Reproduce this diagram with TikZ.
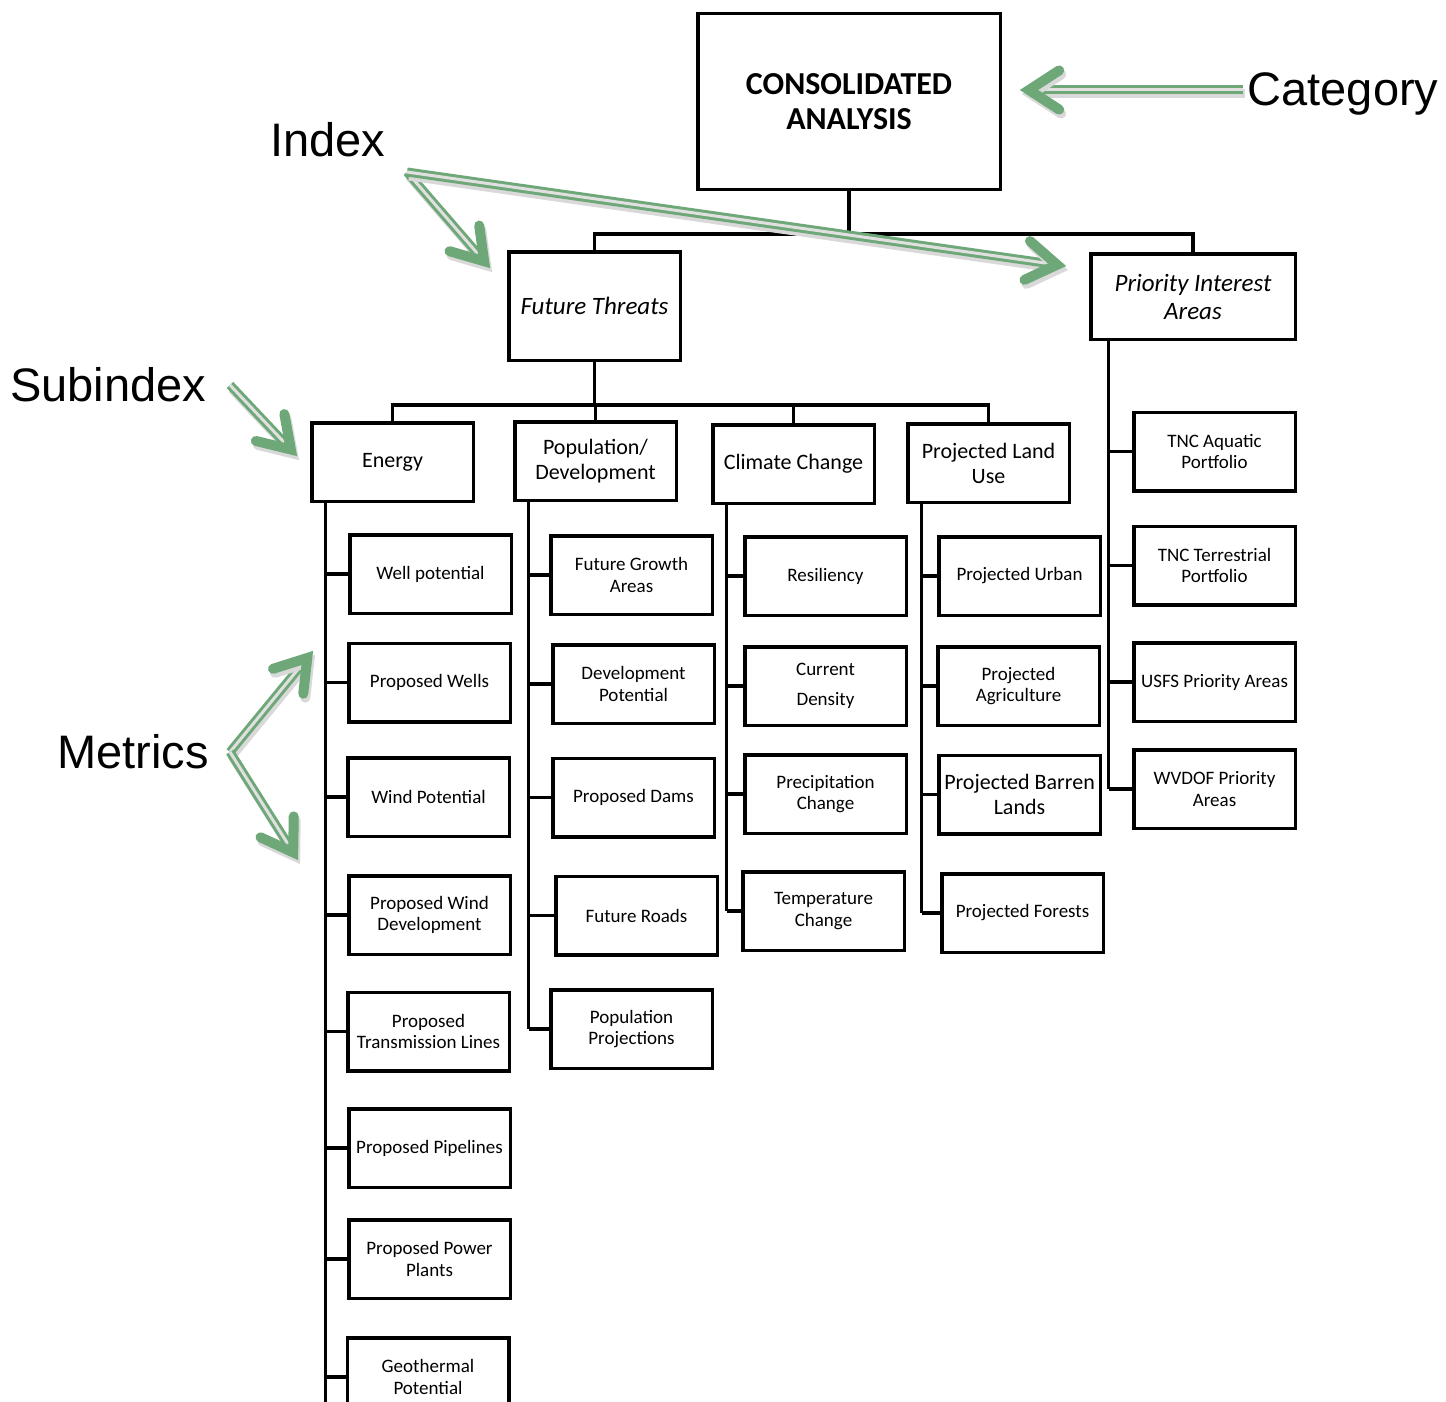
\documentclass[tikz,border=0pt]{standalone}
\usepackage{fontspec}
\setmainfont{Carlito}
\newfontfamily\labfont{Liberation Sans}
\usetikzlibrary{calc}
\definecolor{arrowgreen}{RGB}{111,168,120}
\tikzset{
  box/.style={draw, line width=3.5pt, align=center, inner sep=2pt,
              minimum width=161.5pt, minimum height=78.5pt,
              font=\fontsize{19}{21.5}\selectfont},
  subbox/.style={box, font=\fontsize{22}{25}\selectfont},
  indexbox/.style={box, font=\itshape\fontsize{25}{28}\selectfont},
  consbox/.style={box, minimum width=302.5pt, minimum height=175.5pt,
                  font=\bfseries\fontsize{32}{35}\selectfont},
  tree/.style={line width=3.5pt},
  tag/.style={font=\labfont\fontsize{47}{50}\selectfont, inner sep=0pt},
  gshaft/.style={draw=arrowgreen, line width=3pt, double=black!12,
                 double distance=3pt, shorten >=14pt,
                 preaction={draw=black!15, line width=9pt,
                            transform canvas={shift={(2pt,-4pt)}}}},
  ghead/.style={draw=arrowgreen, line width=10pt, line cap=round, line join=miter,
                preaction={draw=black!15, line width=10pt, line cap=round,
                           transform canvas={shift={(2pt,-4pt)}}}},
}
\begin{document}
\begin{tikzpicture}[x=1pt, y=-1pt]
  \useasboundingbox (0,0) rectangle (1446,1402);
  \coordinate (pagebottom) at (0,1402);

  % category and indices
  \node[consbox] (cons) at (849,101.5) {CONSOLIDATED\\ANALYSIS};
  \node[indexbox, minimum width=171.5pt, minimum height=108.5pt] (ft) at (594.5,306) {Future Threats};
  \node[indexbox, minimum width=204.5pt, minimum height=85.5pt] (pia) at (1193,296.5) {Priority Interest\\Areas};

  % subindices
  \node[subbox] (energy) at (392.5,462) {Energy};
  \node[subbox] (popdev) at (595.5,461) {Population/\\Development};
  \node[subbox] (climate) at (793.5,464) {Climate Change};
  \node[subbox] (landuse) at (988.5,463) {Projected Land\\Use};

  % metrics: energy
  \node[box] (wellp) at (430.5,574) {Well potential};
  \node[box] (propwells) at (429.5,682.5) {Proposed Wells};
  \node[box] (windp) at (428.5,797) {Wind Potential};
  \node[box] (propwind) at (429.5,915) {Proposed Wind\\Development};
  \node[box] (transm) at (428.5,1031.5) {Proposed\\Transmission Lines};
  \node[box] (pipel) at (429.5,1148) {Proposed Pipelines};
  \node[box] (power) at (429.5,1259) {Proposed Power\\Plants};
  \node[box] (geoth) at (428,1377) {Geothermal\\Potential};

  % metrics: population / development
  \node[box] (growth) at (631.5,575) {Future Growth\\Areas};
  \node[box] (devpot) at (633.5,684) {Development\\Potential};
  \node[box] (dams) at (633.5,797.5) {Proposed Dams};
  \node[box] (roads) at (636.5,915.5) {Future Roads};
  \node[box] (popproj) at (631.5,1029) {Population\\Projections};

  % metrics: climate change
  \node[box] (resil) at (825.5,576) {Resiliency};
  \node[box] (density) at (825.5,686) {Current\\[8pt]Density};
  \node[box] (precip) at (825.5,794) {Precipitation\\Change};
  \node[box] (temp) at (823.5,911) {Temperature\\Change};

  % metrics: projected land use
  \node[box] (urban) at (1019.5,576) {Projected Urban};
  \node[box] (agri) at (1018.5,686) {Projected\\Agriculture};
  \node[subbox] (barren) at (1019.5,794.5) {Projected Barren\\Lands};
  \node[box] (forests) at (1022.5,913) {Projected Forests};

  % metrics: priority interest areas
  \node[box] (aquatic) at (1214.5,451.5) {TNC Aquatic\\Portfolio};
  \node[box] (terr) at (1214.5,565.5) {TNC Terrestrial\\Portfolio};
  \node[box] (usfs) at (1214.5,682) {USFS Priority Areas};
  \node[box] (wvdof) at (1214.5,789) {WVDOF Priority\\Areas};

  % tree lines
  \draw[tree] (cons.south) -- ++(0,43) coordinate (j1);
  \draw[tree] (ft.north) |- (j1) -| (pia.north);
  \draw[tree] (ft.south) -- ++(0,43) coordinate (j2);
  \draw[tree] (energy.north) |- (j2) -| (landuse.north);
  \draw[tree] (popdev.north) -- (popdev.north |- j2);
  \draw[tree] (climate.north) -- (climate.north |- j2);

  \coordinate (es) at ([xshift=15.5pt]energy.south west);
  \draw[tree] (es) -- (es |- pagebottom);
  \foreach \m in {wellp,propwells,windp,propwind,transm,pipel,power,geoth}
    \draw[tree] (\m.west) -- (\m.west -| es);

  \coordinate (ps) at ([xshift=15.5pt]popdev.south west);
  \draw[tree] (ps) -- (ps |- popproj.west);
  \foreach \m in {growth,devpot,dams,roads,popproj}
    \draw[tree] (\m.west) -- (\m.west -| ps);

  \coordinate (cs) at ([xshift=15.5pt]climate.south west);
  \draw[tree] (cs) -- (cs |- temp.west);
  \foreach \m in {resil,density,precip,temp}
    \draw[tree] (\m.west) -- (\m.west -| cs);

  \coordinate (ls) at ([xshift=15.5pt]landuse.south west);
  \draw[tree] (ls) -- (ls |- forests.west);
  \foreach \m in {urban,agri,barren,forests}
    \draw[tree] (\m.west) -- (\m.west -| ls);

  \coordinate (pis) at ([xshift=19.5pt]pia.south west);
  \draw[tree] (pis) -- (pis |- wvdof.west);
  \foreach \m in {aquatic,terr,usfs,wvdof}
    \draw[tree] (\m.west) -- (\m.west -| pis);

  % level tags
  \node[tag] (cat) at (1343,94) {Category};
  \node[tag] (idx) at (328,140) {Index};
  \node[tag] (sub) at (108,385) {Subindex};
  \node[tag] (met) at (133,752) {Metrics};

  % green pointers
  \coordinate (catS) at (1243,90);  \coordinate (catT) at (1020,90);
  \coordinate (idxS) at (407,172);  \coordinate (ftT) at (490,268);
  \coordinate (piaT) at (1066,266);
  \coordinate (subS) at (230,385);  \coordinate (enT) at (297,456);
  \coordinate (metS) at (230,752);  \coordinate (upT) at (313,651);
  \coordinate (dnT) at (298,860);
  \foreach \s/\t in {catS/catT, idxS/ftT, idxS/piaT, subS/enT, metS/upT, metS/dnT} {
    \draw[gshaft] (\s) -- (\t);
    \coordinate (hv) at ($(\t)!9pt!(\s)$);
    \draw[ghead] ($(hv)!36pt!33:(\s)$) -- (hv) -- ($(hv)!36pt!-33:(\s)$);
  }
\end{tikzpicture}
\end{document}
